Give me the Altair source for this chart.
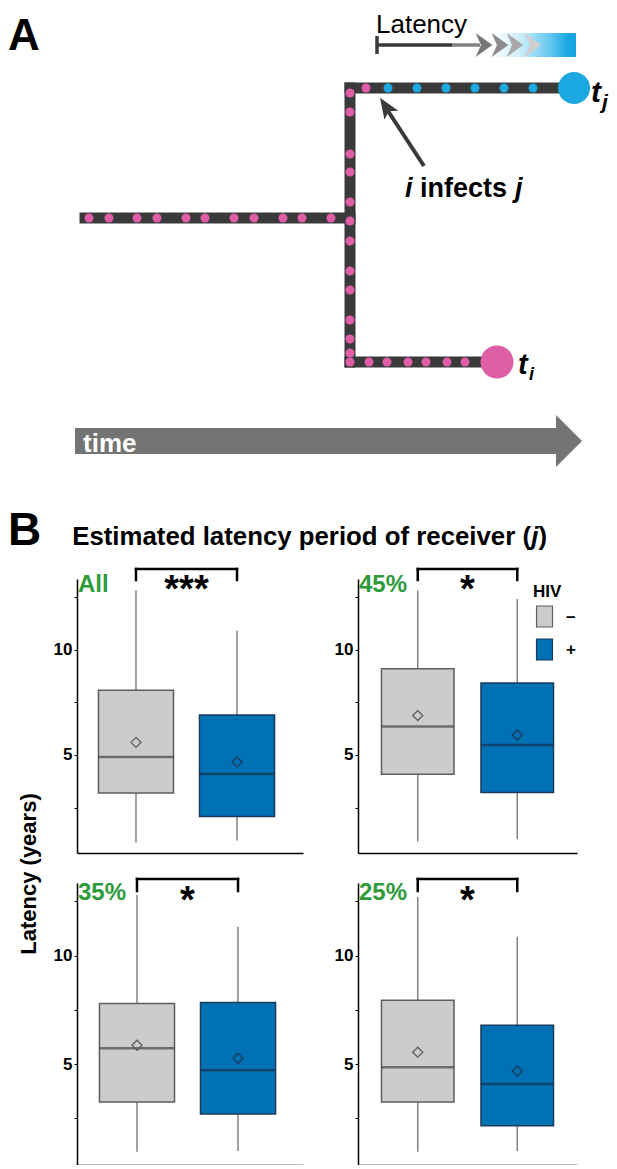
import altair as alt
import pandas as pd

FONT = "Liberation Sans"
INK = "#3a3a3a"
PINK = "#df5fa6"
CYAN = "#1ba8e1"
GREEN = "#2e9b3b"
GRAY_FILL, BLUE_FILL = "#cccccc", "#0071b4"
GRAY_EDGE, BLUE_EDGE = "#5e5e5e", "#1d3b5a"
GRAY_MED, BLUE_MED = "#454545", "#18324d"

# ---------------- Panel A: transmission schematic (diagram units) ----------------
branch_x1 = [85, 350, 350, 350]
branch_y1 = [218, 88, 88, 362]
branch_x2 = [350, 350, 570, 495]
branch_y2 = [218, 362, 88, 362]

donor_dot_x = [89, 109, 137, 157, 186, 205, 234, 254, 283, 302, 331,
               350, 350, 350, 350, 350, 350, 350, 350, 350, 350, 350, 350, 350,
               369, 387, 408, 426, 447, 465, 366]
donor_dot_y = [218, 218, 218, 218, 218, 218, 218, 218, 218, 218, 218,
               93, 112, 154, 172, 202, 221, 241, 271, 290, 320, 339, 353, 362,
               362, 362, 362, 362, 362, 362, 88]
recip_dot_x = [388, 417, 446, 475, 504, 533]
recip_dot_y = [88, 88, 88, 88, 88, 88]

tip_j = (574, 88)
tip_i = (497, 362)

latency_dark = (376, 452, 45)
latency_gray = (452, 480, 45)
latency_tick = (377, 36, 54)
latency_bar = (490, 576, 33, 57)
chevron_x = [484, 500, 515, 533]
chevron_y = [45, 45, 45, 45]
chevron_shade = ["#777777", "#8c8c8c", "#a9a9a9", "#cfcfcf"]

arrow_tail = (424, 166)
arrow_end = (388, 111)
arrow_head = (386, 107)

time_shaft = (75, 557, 428, 454)
time_head = (569, 441)

XS = alt.Scale(domain=[8, 609], nice=False, zero=False)
YS = alt.Scale(domain=[8, 579], nice=False, zero=False, reverse=True)


def X(f):
    return alt.X(f, type="quantitative", scale=XS, axis=None)


def Y(f):
    return alt.Y(f, type="quantitative", scale=YS, axis=None)


def text_layer(s, x, y, size, weight="bold", style="normal", align="left", color="black"):
    df = pd.DataFrame({"t": [s], "x": [x], "y": [y]})
    return alt.Chart(df).mark_text(
        fontSize=size, fontWeight=weight, fontStyle=style, align=align,
        baseline="alphabetic", color=color, font=FONT
    ).encode(x=X("x"), y=Y("y"), text="t:N")


seg = pd.DataFrame({"x1": branch_x1, "y1": branch_y1, "x2": branch_x2, "y2": branch_y2})
branches = alt.Chart(seg).mark_rule(color=INK, strokeWidth=11, strokeCap="square").encode(
    x=X("x1"), y=Y("y1"), x2="x2:Q", y2="y2:Q")

donor = alt.Chart(pd.DataFrame({"x": donor_dot_x, "y": donor_dot_y})).mark_circle(
    color=PINK, size=81, opacity=1).encode(x=X("x"), y=Y("y"))
recip = alt.Chart(pd.DataFrame({"x": recip_dot_x, "y": recip_dot_y})).mark_circle(
    color=CYAN, size=81, opacity=1).encode(x=X("x"), y=Y("y"))
tipj = alt.Chart(pd.DataFrame({"x": [tip_j[0]], "y": [tip_j[1]]})).mark_circle(
    color=CYAN, size=1024, opacity=1).encode(x=X("x"), y=Y("y"))
tipi = alt.Chart(pd.DataFrame({"x": [tip_i[0]], "y": [tip_i[1]]})).mark_circle(
    color=PINK, size=1089, opacity=1).encode(x=X("x"), y=Y("y"))

grad = {"gradient": "linear", "x1": 0, "x2": 1, "y1": 0, "y2": 0,
        "stops": [{"offset": 0, "color": "#ffffff"},
                  {"offset": 0.35, "color": "#cdeefb"},
                  {"offset": 0.7, "color": "#63c6ee"},
                  {"offset": 0.9, "color": "#1ba8e1"},
                  {"offset": 1, "color": "#16a3df"}]}
lat_bar = alt.Chart(pd.DataFrame({"a": [latency_bar[0]], "b": [latency_bar[1]],
                                  "c": [latency_bar[2]], "d": [latency_bar[3]]})).mark_rect(
    fill=grad).encode(x=X("a"), x2="b:Q", y=Y("c"), y2="d:Q")
lat_dark = alt.Chart(pd.DataFrame({"a": [latency_dark[0]], "b": [latency_dark[1]], "y": [latency_dark[2]]})).mark_rule(
    color=INK, strokeWidth=3.5).encode(x=X("a"), x2="b:Q", y=Y("y"))
lat_gray = alt.Chart(pd.DataFrame({"a": [latency_gray[0]], "b": [latency_gray[1]], "y": [latency_gray[2]]})).mark_rule(
    color="#808080", strokeWidth=3.5).encode(x=X("a"), x2="b:Q", y=Y("y"))
lat_tick = alt.Chart(pd.DataFrame({"x": [latency_tick[0]], "a": [latency_tick[1]], "b": [latency_tick[2]]})).mark_rule(
    color=INK, strokeWidth=3.5).encode(x=X("x"), y=Y("a"), y2="b:Q")
chev = alt.Chart(pd.DataFrame({"x": chevron_x, "y": chevron_y, "c": chevron_shade})).mark_point(
    shape="M-0.7,-1L0.7,0L-0.7,1L-0.25,0Z", filled=True, size=576, opacity=1, strokeWidth=0).encode(
    x=X("x"), y=Y("y"), fill=alt.Fill("c:N", scale=None))

arr_shaft = alt.Chart(pd.DataFrame({"a": [arrow_tail[0]], "b": [arrow_tail[1]],
                                    "c": [arrow_end[0]], "d": [arrow_end[1]]})).mark_rule(
    color=INK, strokeWidth=4).encode(x=X("a"), y=Y("b"), x2="c:Q", y2="d:Q")
arr_head = alt.Chart(pd.DataFrame({"x": [arrow_head[0]], "y": [arrow_head[1]]})).mark_point(
    shape="M0,-1L0.75,0.9L0,0.45L-0.75,0.9Z", filled=True, size=484, angle=327,
    color=INK, opacity=1, strokeWidth=0).encode(x=X("x"), y=Y("y"))

t_shaft = alt.Chart(pd.DataFrame({"a": [time_shaft[0]], "b": [time_shaft[1]],
                                  "c": [time_shaft[2]], "d": [time_shaft[3]]})).mark_rect(
    color="#747474").encode(x=X("a"), x2="b:Q", y=Y("c"), y2="d:Q")
t_head = alt.Chart(pd.DataFrame({"x": [time_head[0]], "y": [time_head[1]]})).mark_point(
    shape="M-0.5,-1L0.5,0L-0.5,1Z", filled=True, size=2704, color="#747474",
    opacity=1, strokeWidth=0).encode(x=X("x"), y=Y("y"))

texts = [
    text_layer("A", 8, 50, 44),
    text_layer("Latency", 376, 33, 26, weight="normal"),
    text_layer("i", 405, 197, 27, style="italic"),
    text_layer("infects", 420, 197, 27),
    text_layer("j", 515, 197, 27, style="italic"),
    text_layer("t", 591, 102, 30, style="italic"),
    text_layer("j", 602, 109, 21, style="italic"),
    text_layer("t", 518, 374, 29, style="italic"),
    text_layer("i", 529, 380, 18, style="italic"),
    text_layer("time", 83, 452, 26, color="white"),
    text_layer("B", 8, 545, 46),
    text_layer("Estimated latency period of receiver (", 531, 545, 25.8, align="right"),
    text_layer("j", 538.4, 545, 25.8, style="italic", align="right"),
    text_layer(")", 547, 545, 25.8, align="right"),
]

panelA = alt.layer(branches, donor, recip, tipj, tipi, lat_bar, lat_dark, lat_gray, lat_tick, chev,
                   arr_shaft, arr_head, t_shaft, t_head, *texts).properties(width=601, height=571)

# ---------------- Panel B: latency box plots ----------------
groups = ["–", "+"]
stat_panel = ["All", "All", "45%", "45%", "35%", "35%", "25%", "25%"]
stat_group = ["–", "+", "–", "+", "–", "+", "–", "+"]
whisker_low = [0.85, 0.94, 0.90, 1.00, 0.96, 1.00, 0.96, 1.00]
quart_1 = [3.20, 2.08, 4.09, 3.22, 3.26, 2.70, 3.26, 2.16]
median = [4.90, 4.10, 6.35, 5.48, 5.73, 4.72, 4.86, 4.08]
quart_3 = [8.07, 6.90, 9.09, 8.41, 7.80, 7.84, 7.94, 6.79]
whisker_high = [12.8, 10.9, 12.8, 12.4, 12.8, 11.33, 12.7, 10.87]
mean = [5.60, 4.67, 6.87, 5.95, 5.87, 5.27, 5.55, 4.68]
panel_names = ["All", "45%", "35%", "25%"]
panel_stars = ["***", "*", "*", "*"]

stats = pd.DataFrame({"panel": stat_panel, "grp": stat_group, "lo": whisker_low, "q1": quart_1,
                      "med": median, "q3": quart_3, "hi": whisker_high, "mean": mean})

RECT = "M-0.76,-1H0.76V1H-0.76Z"


def box_panel(name, stars, width, height, pin, pout, align, row_top, legend=False):
    d = stats[stats.panel == name]
    xs = alt.Scale(domain=groups, paddingInner=pin, paddingOuter=pout, align=align)
    ys = alt.Scale(domain=[0.35, 13.35], nice=False, zero=False)
    xaxis = alt.Axis(labels=False, ticks=False, title=None, domainColor="black", domainWidth=1.5, grid=False)
    yaxis = alt.Axis(values=[2.5, 5, 7.5, 10, 12.5],
                     labelExpr="datum.value == 5 ? '5' : (datum.value == 10 ? '10' : '')",
                     labelFontSize=17, labelFontWeight="bold", labelColor="black", labelFont=FONT,
                     tickColor="black", tickSize=3, tickWidth=1, domainColor="black", domainWidth=1.5,
                     grid=False, title=None, labelPadding=2)

    def XB():
        return alt.X("grp:N", scale=xs, axis=xaxis, sort=groups)

    step = width / (2 - pin + 2 * pout)
    start = (width - step * (2 - pin)) * align
    bw = step * (1 - pin)
    mid = start + bw / 2 + step / 2

    if legend:
        leg = alt.Legend(title="HIV", orient="none", legendX=175, legendY=5, symbolType=RECT,
                         symbolSize=441, symbolStrokeColor="#555555", symbolStrokeWidth=1.2,
                         labelFontSize=17, labelFontWeight="bold", labelFont=FONT, labelColor="black",
                         titleFontSize=17, titleFontWeight="bold", titleFont=FONT, titleColor="black",
                         titlePadding=4, rowPadding=6, labelOffset=10, padding=0, direction="vertical")
    else:
        leg = None

    fill = alt.Fill("grp:N", scale=alt.Scale(domain=groups, range=[GRAY_FILL, BLUE_FILL]), legend=leg)
    stroke = alt.Stroke("grp:N", scale=alt.Scale(domain=groups, range=[GRAY_EDGE, BLUE_EDGE]), legend=None)
    medc = alt.Color("grp:N", scale=alt.Scale(domain=groups, range=[GRAY_MED, BLUE_MED]), legend=None)

    base = alt.Chart(d)
    lower = base.mark_rule(color="#6f6f6f", strokeWidth=1.3).encode(
        x=XB(), y=alt.Y("lo:Q", scale=ys, axis=yaxis), y2="q1:Q")
    upper = base.mark_rule(color="#6f6f6f", strokeWidth=1.3).encode(
        x=XB(), y=alt.Y("q3:Q", scale=ys, axis=yaxis), y2="hi:Q")
    box = base.mark_bar(strokeWidth=1.5).encode(
        x=XB(), y=alt.Y("q1:Q", scale=ys, axis=yaxis), y2="q3:Q", fill=fill, stroke=stroke)
    med = base.mark_tick(thickness=2.5, size=bw).encode(
        x=XB(), y=alt.Y("med:Q", scale=ys, axis=yaxis), color=medc)
    mn = base.mark_point(shape="diamond", filled=False, size=100, strokeWidth=1.3, opacity=1).encode(
        x=XB(), y=alt.Y("mean:Q", scale=ys, axis=yaxis), stroke=stroke)

    by, be, sy, ly = (-10, 1, 23, 13) if row_top else (-4, 8, 30, 17)
    bdat = alt.Chart(pd.DataFrame({"grp": groups}))
    br_line = bdat.mark_line(color="black", strokeWidth=2.5, strokeCap="square").encode(
        x=XB(), y=alt.value(by))
    br_ends = bdat.mark_rule(color="black", strokeWidth=2.5, strokeCap="square").encode(
        x=XB(), y=alt.value(by), y2=alt.value(be))
    star = alt.Chart(pd.DataFrame({"s": [stars]})).mark_text(
        fontSize=38, fontWeight="bold", font=FONT, align="center", baseline="alphabetic", color="black"
    ).encode(x=alt.value(mid), y=alt.value(sy), text="s:N")
    lab = alt.Chart(pd.DataFrame({"s": [name]})).mark_text(
        fontSize=24, fontWeight="bold", font=FONT, align="left", baseline="alphabetic", color=GREEN
    ).encode(x=alt.value(1), y=alt.value(ly), text="s:N")

    return alt.layer(lower, upper, box, med, mn, br_line, br_ends, star, lab).properties(
        width=width, height=height)


pAll = box_panel("All", "***", 226, 274, 0.257, 0.247, 0.43, True)
p45 = box_panel("45%", "*", 219, 274, 0.271, 0.236, 0.5, True, legend=True)
p35 = box_panel("35%", "*", 226, 282, 0.257, 0.247, 0.45, False)
p25 = box_panel("25%", "*", 219, 282, 0.271, 0.236, 0.5, False)

# shared y-axis title, centred between the two rows
ytitle = alt.Chart(pd.DataFrame({"s": ["Latency (years)"]})).mark_text(
    angle=270, fontSize=22, fontWeight="bold", font=FONT, align="center", baseline="alphabetic",
    color="black").encode(x=alt.value(28), y=alt.value(295), text="s:N").properties(width=14, height=274)
spacer = alt.Chart(pd.DataFrame({"s": [""]})).mark_text().encode(text="s:N").properties(width=14, height=282)


def indep(c):
    return c.resolve_scale(x="independent", y="independent", fill="independent",
                           stroke="independent", color="independent").resolve_legend(
        fill="independent", stroke="independent", color="independent")


grid = indep(alt.concat(ytitle, pAll, p45, spacer, p35, p25, columns=3,
                        spacing={"row": 30, "column": 55}, bounds="flush", align="each"))

chart = indep(alt.vconcat(panelA, grid, spacing=0, bounds="flush")).properties(
    padding=0, background="white").configure(font=FONT).configure_view(stroke=None)

chart.save("out.html", embed_options={"renderer": "svg", "actions": False})
